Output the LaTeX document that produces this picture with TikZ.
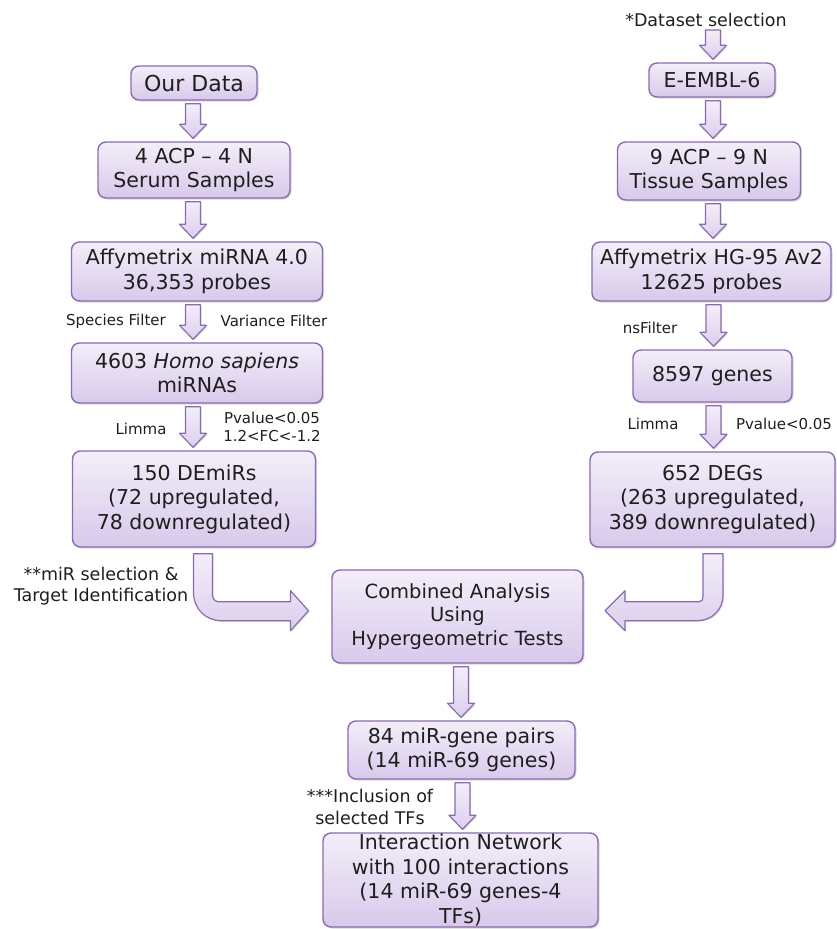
\documentclass[tikz,border=0pt]{standalone}
\usepackage{fontspec}
\setmainfont{DejaVu Sans}
\usetikzlibrary{calc,shadows}
\definecolor{boxline}{HTML}{8A6BB0}
\definecolor{boxtop}{HTML}{F3EEF9}
\definecolor{boxbottom}{HTML}{D8C9EB}
\definecolor{inktext}{HTML}{1E1E1E}
\tikzset{
  flowbox/.style={draw=boxline, line width=1.4pt, rounded corners=8pt,
    top color=boxtop, bottom color=boxbottom, inner sep=0pt, align=center,
    text=inktext, font=\fontsize{20.5}{24.5}\selectfont,
    drop shadow={shadow xshift=1.5pt, shadow yshift=-1.5pt, opacity=0.3}},
  boxsize/.style 2 args={minimum width=#1pt, minimum height=#2pt},
  blockarrow/.style={draw=boxline, line width=1.2pt, line join=round,
    top color=boxtop, bottom color=boxbottom!85!boxtop,
    drop shadow={shadow xshift=1.2pt, shadow yshift=-1.2pt, opacity=0.25}},
  filterlabel/.style={font=\fontsize{15}{18}\selectfont, text=inktext,
    align=center, inner sep=0pt},
  notelabel/.style={font=\fontsize{17.5}{21.5}\selectfont, text=inktext,
    align=center, inner sep=0pt}
}
% straight block arrow from one box down to the next
\newcommand{\flowarrow}[3][0]{%
  \draw[blockarrow] let \p1=($(#2.south)+(#1,3)$), \p2=($(#3.north)+(#1,-3)$) in
    (\x1-7.5pt,\y1) -- (\x1-7.5pt,\y2+14pt) -- (\x1-13.5pt,\y2+14pt) -- (\x1,\y2)
    -- (\x1+13.5pt,\y2+14pt) -- (\x1+7.5pt,\y2+14pt) -- (\x1+7.5pt,\y1) -- cycle;}

\begin{document}
\begin{tikzpicture}[x=1pt,y=-1pt]
  \useasboundingbox (0,0) rectangle (836,929);

  % left column: own data
  \node[flowbox, boxsize={126}{34}, font=\fontsize{22}{26}\selectfont] (ourdata) at (194,83) {Our Data};
  \node[flowbox, boxsize={192}{56}] (serum) at (194,170) {4 ACP – 4 N\\Serum Samples};
  \node[flowbox, boxsize={251}{59}] (affymi) at (197,271.5) {Affymetrix miRNA 4.0\\36,353 probes};
  \node[flowbox, boxsize={251}{60}] (homo) at (197,373) {4603 \textit{Homo sapiens}\\miRNAs};
  \node[flowbox, boxsize={243}{96}] (demirs) at (194,499) {150 DEmiRs\\(72 upregulated,\\78 downregulated)};

  % right column: public dataset
  \node[notelabel] (dataset) at (706,20) {*Dataset selection};
  \node[flowbox, boxsize={126}{34}] (embl) at (712,80) {E-EMBL-6};
  \node[flowbox, boxsize={183}{58}] (tissue) at (709,171) {9 ACP – 9 N\\Tissue Samples};
  \node[flowbox, boxsize={239}{59}] (affyhg) at (711.5,271.5) {Affymetrix HG-95 Av2\\12625 probes};
  \node[flowbox, boxsize={159}{52}] (genes) at (712.5,376) {8597 genes};
  \node[flowbox, boxsize={245}{95}] (degs) at (712.5,499.5) {652 DEGs\\(263 upregulated,\\389 downregulated)};

  % middle
  \node[flowbox, boxsize={251}{93}, font=\fontsize{19.5}{23.5}\selectfont] (combined) at (457.5,616.5) {Combined Analysis\\Using\\Hypergeometric Tests};
  \node[flowbox, boxsize={227}{58}] (pairs) at (461.5,750) {84 miR-gene pairs\\(14 miR-69 genes)};
  \node[flowbox, boxsize={275}{94}] (network) at (460.5,880) {Interaction Network\\with 100 interactions\\(14 miR-69 genes-4\\TFs)};

  % arrows
  \flowarrow[-1]{ourdata}{serum}
  \flowarrow[-1]{serum}{affymi}
  \flowarrow[-4]{affymi}{homo}
  \flowarrow[-4]{homo}{demirs}
  \flowarrow[7]{dataset}{embl}
  \flowarrow[1]{embl}{tissue}
  \flowarrow[4]{tissue}{affyhg}
  \flowarrow[2]{affyhg}{genes}
  \flowarrow[1]{genes}{degs}
  \flowarrow[3.5]{combined}{pairs}
  \flowarrow[1]{pairs}{network}

  \coordinate (mirbend) at ($(demirs.south)+(-0.5,6)$);
  \begin{scope}[shift={(mirbend)}]
    \draw[blockarrow] (0,0) -- (0,39) .. controls (0,55) and (12,67) .. (28,67) -- (97,67)
      -- (97,77) -- (115,57) -- (97,37) -- (97,48) -- (25,48)
      .. controls (22,48) and (19,45) .. (19,42) -- (19,0) -- cycle;
  \end{scope}
  \coordinate (degbend) at ($(degs.south)+(10.5,6)$);
  \begin{scope}[shift={(degbend)}]
    \draw[blockarrow] (0,0) -- (0,41) .. controls (0,57) and (-12,67) .. (-26,67) -- (-98,67)
      -- (-98,77) -- (-118,57) -- (-98,37) -- (-98,48) -- (-24,48)
      .. controls (-21,48) and (-20,46) .. (-20,43) -- (-20,0) -- cycle;
  \end{scope}

  % labels beside the arrows
  \node[filterlabel] (species) at (116,321) {Species Filter};
  \node[filterlabel] (variance) at (274,321) {Variance Filter};
  \node[filterlabel] (limmami) at (141,429) {Limma};
  \node[filterlabel] (cutmi) at (272,427) {Pvalue<0.05\\1.2<FC<-1.2};
  \node[filterlabel] (nsfilter) at (650,328) {nsFilter};
  \node[filterlabel] (limmagene) at (653,424) {Limma};
  \node[filterlabel] (cutgene) at (784,424) {Pvalue<0.05};
  \node[notelabel] (mirsel) at (101,586) {**miR selection \&\\Target Identification};
  \node[notelabel] (tfs) at (370,807) {***Inclusion of\\selected TFs};
\end{tikzpicture}
\end{document}
